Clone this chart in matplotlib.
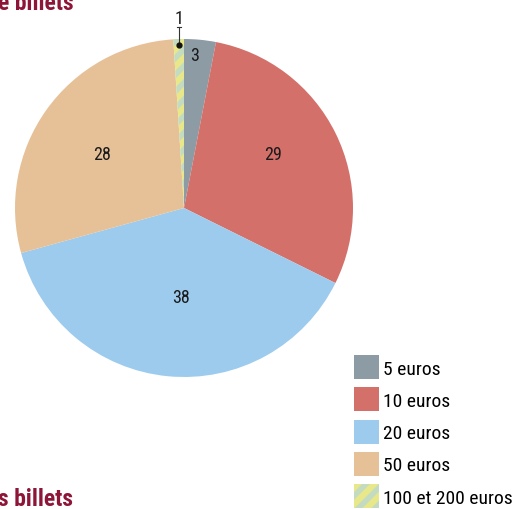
import numpy as np
import matplotlib
matplotlib.use('Agg')
import matplotlib.pyplot as plt
from matplotlib import font_manager

labels = ['5 euros', '10 euros', '20 euros', '50 euros', '100 et 200 euros']
valeurs = [3, 29, 38, 28, 1]
couleurs = ['#8d9ba5', '#d4706a', '#9dcbee', '#e6c197', '#e8e78a']

noms = set(f.name for f in font_manager.fontManager.ttflist)
choix = [n for n in ['Roboto Condensed', 'Archivo Narrow', 'Liberation Sans Narrow',
                     'Barlow Condensed'] if n in noms]
police = choix[0] if choix else 'Liberation Sans'
choix_g = [n for n in ['Roboto Condensed', 'Asap Condensed', 'Barlow Condensed'] if n in noms]
police_g = choix_g[0] if choix_g else police

plt.rcParams['font.family'] = [police, 'DejaVu Sans']
plt.rcParams['hatch.color'] = '#c3dcc1'
plt.rcParams['hatch.linewidth'] = 4

fig = plt.figure(figsize=(5.12, 5.10), dpi=100)
ax = fig.add_axes([15/512, 132/510, 338/512, 338/510])

wedges, _ = ax.pie(valeurs, colors=couleurs, startangle=90, counterclock=False,
                   radius=1, wedgeprops=dict(linewidth=0))
wedges[4].set_hatch('//')
ax.set_xlim(-1, 1)
ax.set_ylim(-1, 1)
ax.set_aspect('auto')
ax.axis('off')

# position des etiquettes (rayon en fraction)
pos_etiq = [(0.065, 0.905), (0.527, 0.32), (-0.018, -0.527), (-0.485, 0.32)]
for v, (x, y) in zip(valeurs[:4], pos_etiq):
    ax.text(x, y, str(v), ha='center', va='center', fontsize=13, color='#1a1a1a')

# petite part : trait vers l'exterieur
w = wedges[4]
a = np.deg2rad((w.theta1 + w.theta2) / 2)
x0 = 0.965 * np.cos(a)
ax.plot([x0, x0], [0.965, 1.07], color='#333333', lw=0.8, clip_on=False)
ax.plot([x0 - 0.012, x0 + 0.012], [1.07, 1.07], color='#333333', lw=0.8, clip_on=False)
ax.plot([x0], [0.965], 'o', color='#111111', ms=3.5, clip_on=False)
ax.text(x0, 1.07, str(valeurs[4]), ha='center', va='bottom', fontsize=13,
        color='#1a1a1a', clip_on=False)

fig.legend(wedges, labels, loc='lower left', bbox_to_anchor=(346/512, -7/510),
           frameon=False, fontsize=14, handlelength=1.29, handleheight=1.53,
           handletextpad=0.2, labelspacing=0.42, borderaxespad=0)

rouge = '#8c1538'
fig.text(-2/512, 1 + 8/510, 'e billets', ha='left', va='top', fontsize=17,
         fontweight='bold', color=rouge, family=police_g)
fig.text(-2/512, -1/510, 's billets', ha='left', va='bottom', fontsize=17,
         fontweight='bold', color=rouge, family=police_g)

fig.savefig('out.png', dpi=100)
